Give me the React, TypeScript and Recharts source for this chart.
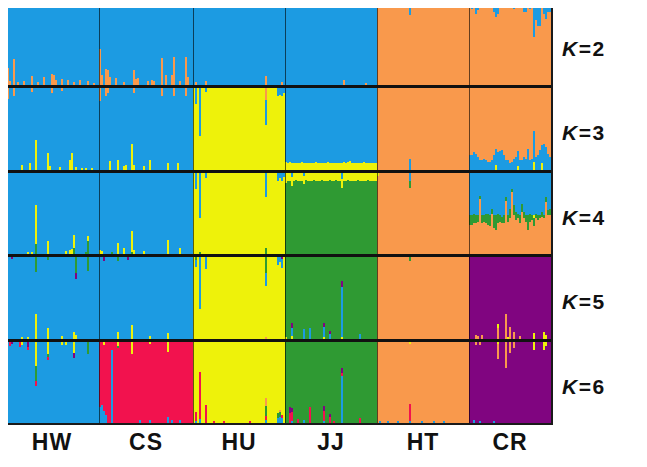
import { BarChart, Bar, XAxis, YAxis, ReferenceLine } from 'recharts'

// cluster colours as used in the figure
const clusterColors: Record<string, string> = {
  blue: '#1c9be2',
  orange: '#f9994c',
  yellow: '#eef20a',
  green: '#2f9a33',
  red: '#f2124e',
  purple: '#800580',
}

const populations = ['HW', 'CS', 'HU', 'JJ', 'HT', 'CR']
const popSizes = [47, 47, 46, 46, 46, 41]
const kValues = [2, 3, 4, 5, 6]

// stacking order, bottom -> top
const stackOrder: Record<number, string[]> = {
  2: ['orange', 'blue'],
  3: ['yellow', 'blue', 'orange'],
  4: ['orange', 'green', 'yellow', 'blue'],
  5: ['orange', 'yellow', 'blue', 'purple', 'green'],
  6: ['blue', 'red', 'purple', 'green', 'orange', 'yellow'],
}

// cluster that makes up the rest of each individual, per population
const baseCluster: Record<number, string[]> = {
  2: ['blue', 'blue', 'blue', 'blue', 'orange', 'orange'],
  3: ['blue', 'blue', 'yellow', 'blue', 'orange', 'orange'],
  4: ['blue', 'blue', 'yellow', 'green', 'orange', 'orange'],
  5: ['blue', 'blue', 'yellow', 'green', 'orange', 'purple'],
  6: ['blue', 'red', 'yellow', 'green', 'orange', 'purple'],
}

// admixture read per individual: [population, cluster, index, share]
type Spike = [string, string, number, number]

const k2Spikes: Spike[] = [
  ['HW', 'orange', 1, 0.21], ['HW', 'orange', 2, 0.05], ['HW', 'orange', 4, 0.32], ['HW', 'orange', 6, 0.04],
  ['HW', 'orange', 9, 0.05], ['HW', 'orange', 13, 0.11], ['HW', 'orange', 16, 0.04], ['HW', 'orange', 19, 0.1],
  ['HW', 'orange', 23, 0.14], ['HW', 'orange', 24, 0.12], ['HW', 'orange', 25, 0.06], ['HW', 'orange', 28, 0.08],
  ['HW', 'orange', 31, 0.06], ['HW', 'orange', 34, 0.04], ['HW', 'orange', 37, 0.06], ['HW', 'orange', 41, 0.05],
  ['HW', 'orange', 44, 0.03],
  ['CS', 'orange', 0, 0.44], ['CS', 'orange', 1, 0.12], ['CS', 'orange', 3, 0.2], ['CS', 'orange', 4, 0.18],
  ['CS', 'orange', 5, 0.1], ['CS', 'orange', 8, 0.09], ['CS', 'orange', 12, 0.04], ['CS', 'orange', 17, 0.18],
  ['CS', 'orange', 18, 0.08], ['CS', 'orange', 19, 0.09], ['CS', 'orange', 24, 0.05], ['CS', 'orange', 26, 0.06],
  ['CS', 'orange', 27, 0.05], ['CS', 'orange', 31, 0.33], ['CS', 'orange', 33, 0.12], ['CS', 'orange', 36, 0.12],
  ['CS', 'orange', 37, 0.34], ['CS', 'orange', 40, 0.05], ['CS', 'orange', 43, 0.34], ['CS', 'orange', 44, 0.1],
  ['HU', 'orange', 1, 0.04], ['HU', 'orange', 6, 0.05], ['HU', 'orange', 36, 0.11], ['HU', 'orange', 44, 0.04],
  ['JJ', 'orange', 29, 0.06], ['JJ', 'orange', 40, 0.03],
  ['HT', 'blue', 4, 0.03], ['HT', 'blue', 16, 0.14], ['HT', 'blue', 30, 0.03],
  ['CR', 'blue', 1, 0.06], ['CR', 'blue', 3, 0.12], ['CR', 'blue', 4, 0.08], ['CR', 'blue', 6, 0.05],
  ['CR', 'blue', 8, 0.04], ['CR', 'blue', 12, 0.1], ['CR', 'blue', 13, 0.16], ['CR', 'blue', 14, 0.12],
  ['CR', 'blue', 16, 0.04], ['CR', 'blue', 19, 0.05], ['CR', 'blue', 22, 0.06], ['CR', 'blue', 25, 0.05],
  ['CR', 'blue', 27, 0.1], ['CR', 'blue', 28, 0.1], ['CR', 'blue', 30, 0.06], ['CR', 'blue', 32, 0.41],
  ['CR', 'blue', 33, 0.2], ['CR', 'blue', 34, 0.27], ['CR', 'blue', 35, 0.27], ['CR', 'blue', 37, 0.12],
  ['CR', 'blue', 38, 0.18], ['CR', 'blue', 39, 0.1], ['CR', 'blue', 40, 0.1],
]

const k3Spikes: Spike[] = [
  ['HW', 'orange', 1, 0.14], ['HW', 'orange', 4, 0.1], ['HW', 'orange', 13, 0.05], ['HW', 'orange', 23, 0.06],
  ['HW', 'orange', 28, 0.04],
  ['HW', 'yellow', 8, 0.06], ['HW', 'yellow', 12, 0.08], ['HW', 'yellow', 15, 0.36], ['HW', 'yellow', 21, 0.21],
  ['HW', 'yellow', 22, 0.05], ['HW', 'yellow', 27, 0.04], ['HW', 'yellow', 32, 0.12], ['HW', 'yellow', 33, 0.21],
  ['HW', 'yellow', 35, 0.04], ['HW', 'yellow', 38, 0.03], ['HW', 'yellow', 40, 0.03], ['HW', 'yellow', 43, 0.03],
  ['CS', 'orange', 0, 0.16], ['CS', 'orange', 3, 0.1], ['CS', 'orange', 4, 0.06], ['CS', 'orange', 17, 0.06],
  ['CS', 'orange', 31, 0.1], ['CS', 'orange', 37, 0.1], ['CS', 'orange', 43, 0.1],
  ['CS', 'yellow', 5, 0.11], ['CS', 'yellow', 9, 0.12], ['CS', 'yellow', 12, 0.05], ['CS', 'yellow', 13, 0.06],
  ['CS', 'yellow', 16, 0.32], ['CS', 'yellow', 17, 0.06], ['CS', 'yellow', 22, 0.05], ['CS', 'yellow', 25, 0.12],
  ['CS', 'yellow', 34, 0.09], ['CS', 'yellow', 39, 0.08],
  ['HU', 'blue', 1, 0.2], ['HU', 'blue', 3, 0.59], ['HU', 'blue', 6, 0.05], ['HU', 'blue', 36, 0.3],
  ['HU', 'blue', 42, 0.1], ['HU', 'blue', 43, 0.08], ['HU', 'blue', 44, 0.1], ['HU', 'blue', 45, 0.06],
  ['HU', 'orange', 36, 0.15],
  ['HT', 'blue', 16, 0.14],
  ['CR', 'yellow', 13, 0.06], ['CR', 'yellow', 24, 0.05], ['CR', 'yellow', 32, 0.1], ['CR', 'yellow', 36, 0.08],
]

const k4Spikes: Spike[] = [
  ['HW', 'yellow', 11, 0.03], ['HW', 'yellow', 13, 0.03], ['HW', 'yellow', 15, 0.48], ['HW', 'yellow', 21, 0.16],
  ['HW', 'yellow', 30, 0.04], ['HW', 'yellow', 32, 0.05], ['HW', 'yellow', 33, 0.06], ['HW', 'yellow', 34, 0.15],
  ['HW', 'yellow', 41, 0.06],
  ['HW', 'green', 15, 0.12], ['HW', 'green', 34, 0.08], ['HW', 'green', 40, 0.03], ['HW', 'green', 41, 0.16],
  ['CS', 'yellow', 0, 0.05], ['CS', 'yellow', 1, 0.04], ['CS', 'yellow', 9, 0.14], ['CS', 'yellow', 12, 0.07],
  ['CS', 'yellow', 16, 0.26], ['CS', 'yellow', 17, 0.05], ['CS', 'yellow', 22, 0.04], ['CS', 'yellow', 34, 0.17],
  ['CS', 'yellow', 40, 0.08],
  ['CS', 'green', 6, 0.03], ['CS', 'green', 16, 0.03],
  ['HU', 'blue', 1, 0.2], ['HU', 'blue', 3, 0.55], ['HU', 'blue', 6, 0.06], ['HU', 'blue', 36, 0.3],
  ['HU', 'blue', 42, 0.1], ['HU', 'blue', 43, 0.06], ['HU', 'blue', 44, 0.1], ['HU', 'blue', 45, 0.05],
  ['HU', 'green', 3, 0.03], ['HU', 'green', 36, 0.08],
  ['JJ', 'blue', 3, 0.05], ['JJ', 'blue', 9, 0.04], ['JJ', 'blue', 28, 0.08],
  ['HT', 'blue', 16, 0.1], ['HT', 'green', 16, 0.08], ['HT', 'yellow', 0, 0.04],
  ['CR', 'yellow', 32, 0.03],
]

const k5Spikes: Spike[] = [
  ['HW', 'yellow', 8, 0.03], ['HW', 'yellow', 11, 0.03], ['HW', 'yellow', 15, 0.31], ['HW', 'yellow', 21, 0.13],
  ['HW', 'yellow', 28, 0.04], ['HW', 'yellow', 34, 0.09], ['HW', 'yellow', 35, 0.05],
  ['HW', 'green', 15, 0.18], ['HW', 'green', 21, 0.04], ['HW', 'green', 35, 0.2], ['HW', 'green', 41, 0.17],
  ['HW', 'purple', 3, 0.03], ['HW', 'purple', 35, 0.07],
  ['CS', 'yellow', 9, 0.09], ['CS', 'yellow', 16, 0.17], ['CS', 'yellow', 25, 0.04], ['CS', 'yellow', 34, 0.07],
  ['CS', 'purple', 2, 0.05], ['CS', 'purple', 14, 0.04], ['CS', 'green', 9, 0.05],
  ['HU', 'blue', 1, 0.08], ['HU', 'blue', 3, 0.63], ['HU', 'blue', 6, 0.15], ['HU', 'blue', 36, 0.15],
  ['HU', 'blue', 42, 0.1], ['HU', 'blue', 43, 0.06], ['HU', 'blue', 44, 0.1],
  ['HU', 'green', 1, 0.04], ['HU', 'green', 36, 0.2], ['HU', 'purple', 44, 0.03], ['HU', 'orange', 36, 0.03],
  ['JJ', 'yellow', 0, 0.03], ['JJ', 'yellow', 3, 0.04], ['JJ', 'yellow', 19, 0.02], ['JJ', 'yellow', 28, 0.03],
  ['JJ', 'blue', 3, 0.1], ['JJ', 'blue', 9, 0.12], ['JJ', 'blue', 12, 0.14], ['JJ', 'blue', 19, 0.13],
  ['JJ', 'blue', 22, 0.06], ['JJ', 'blue', 28, 0.6], ['JJ', 'blue', 37, 0.06],
  ['JJ', 'purple', 3, 0.06], ['JJ', 'purple', 19, 0.04], ['JJ', 'purple', 22, 0.04], ['JJ', 'purple', 28, 0.08],
  ['HT', 'green', 16, 0.05],
  ['CR', 'orange', 3, 0.05], ['CR', 'orange', 4, 0.04], ['CR', 'orange', 6, 0.05], ['CR', 'orange', 14, 0.14],
  ['CR', 'orange', 18, 0.3], ['CR', 'orange', 20, 0.15], ['CR', 'orange', 22, 0.08], ['CR', 'orange', 25, 0.04],
  ['CR', 'yellow', 14, 0.04], ['CR', 'yellow', 19, 0.03], ['CR', 'yellow', 32, 0.07], ['CR', 'yellow', 37, 0.09],
  ['CR', 'yellow', 38, 0.05],
]

const k6Spikes: Spike[] = [
  ['HW', 'yellow', 8, 0.04], ['HW', 'yellow', 15, 0.3], ['HW', 'yellow', 21, 0.15], ['HW', 'yellow', 28, 0.04],
  ['HW', 'yellow', 30, 0.04], ['HW', 'yellow', 34, 0.13],
  ['HW', 'green', 15, 0.18], ['HW', 'green', 21, 0.03], ['HW', 'green', 41, 0.15],
  ['HW', 'red', 2, 0.05], ['HW', 'red', 7, 0.06], ['HW', 'red', 11, 0.04], ['HW', 'red', 15, 0.06], ['HW', 'red', 21, 0.04],
  ['HW', 'purple', 3, 0.03], ['HW', 'purple', 11, 0.06], ['HW', 'purple', 34, 0.07],
  ['CS', 'blue', 0, 0.2], ['CS', 'blue', 1, 0.22], ['CS', 'blue', 2, 0.15], ['CS', 'blue', 3, 0.1],
  ['CS', 'blue', 6, 0.9], ['CS', 'blue', 20, 0.04], ['CS', 'blue', 25, 0.04], ['CS', 'blue', 34, 0.08],
  ['CS', 'blue', 36, 0.04], ['CS', 'blue', 40, 0.04],
  ['CS', 'yellow', 2, 0.04], ['CS', 'yellow', 9, 0.05], ['CS', 'yellow', 16, 0.15], ['CS', 'yellow', 25, 0.03],
  ['CS', 'yellow', 34, 0.12], ['CS', 'green', 9, 0.03],
  ['HU', 'red', 1, 0.1], ['HU', 'red', 3, 0.58], ['HU', 'red', 6, 0.22], ['HU', 'red', 10, 0.02],
  ['HU', 'red', 15, 0.02], ['HU', 'red', 28, 0.02], ['HU', 'red', 36, 0.05], ['HU', 'red', 44, 0.04],
  ['HU', 'blue', 1, 0.03], ['HU', 'blue', 3, 0.05], ['HU', 'blue', 36, 0.04], ['HU', 'blue', 42, 0.06],
  ['HU', 'blue', 43, 0.08], ['HU', 'blue', 44, 0.06],
  ['HU', 'green', 36, 0.12], ['HU', 'green', 42, 0.06], ['HU', 'green', 43, 0.05],
  ['HU', 'orange', 36, 0.1], ['HU', 'orange', 43, 0.03],
  ['JJ', 'red', 2, 0.12], ['JJ', 'red', 3, 0.1], ['JJ', 'red', 6, 0.05], ['JJ', 'red', 12, 0.2],
  ['JJ', 'red', 19, 0.12], ['JJ', 'red', 22, 0.08], ['JJ', 'red', 24, 0.03], ['JJ', 'red', 28, 0.04],
  ['JJ', 'red', 37, 0.06],
  ['JJ', 'purple', 2, 0.08], ['JJ', 'purple', 3, 0.06], ['JJ', 'purple', 19, 0.06], ['JJ', 'purple', 22, 0.03],
  ['JJ', 'purple', 28, 0.06],
  ['JJ', 'blue', 3, 0.03], ['JJ', 'blue', 9, 0.04], ['JJ', 'blue', 19, 0.03], ['JJ', 'blue', 28, 0.58],
  ['HT', 'red', 16, 0.2], ['HT', 'yellow', 16, 0.03],
  ['HT', 'blue', 1, 0.03], ['HT', 'blue', 5, 0.02], ['HT', 'blue', 10, 0.03], ['HT', 'blue', 16, 0.03],
  ['HT', 'blue', 22, 0.02], ['HT', 'blue', 28, 0.03], ['HT', 'blue', 33, 0.03],
  ['CR', 'orange', 3, 0.04], ['CR', 'orange', 5, 0.04], ['CR', 'orange', 14, 0.18], ['CR', 'orange', 18, 0.32],
  ['CR', 'orange', 20, 0.14], ['CR', 'orange', 22, 0.08],
  ['CR', 'yellow', 14, 0.03], ['CR', 'yellow', 32, 0.1], ['CR', 'yellow', 37, 0.1], ['CR', 'yellow', 38, 0.05],
  ['CR', 'blue', 2, 0.04], ['CR', 'blue', 5, 0.03], ['CR', 'blue', 12, 0.02],
]

// whole-population shares read individual by individual
const jjYellowK3 = [
  0.1, 0.09, 0.1, 0.09, 0.09, 0.08, 0.09, 0.09, 0.1, 0.09, 0.09, 0.08, 0.09, 0.09, 0.09, 0.1,
  0.09, 0.09, 0.08, 0.09, 0.09, 0.1, 0.09, 0.09, 0.09, 0.08, 0.09, 0.09, 0.09, 0.1, 0.09, 0.1,
  0.11, 0.09, 0.09, 0.09, 0.08, 0.09, 0.09, 0.1, 0.09, 0.09, 0.09, 0.08, 0.09, 0.09,
]
const jjYellowK4 = [
  0.12, 0.1, 0.1, 0.11, 0.1, 0.09, 0.1, 0.1, 0.1, 0.1, 0.09, 0.1, 0.1, 0.1, 0.09, 0.1,
  0.1, 0.1, 0.09, 0.1, 0.1, 0.1, 0.09, 0.1, 0.1, 0.09, 0.1, 0.1, 0.1, 0.1, 0.1, 0.09,
  0.1, 0.1, 0.1, 0.1, 0.09, 0.1, 0.1, 0.1, 0.1, 0.09, 0.1, 0.1, 0.1, 0.1,
]
const crBlueK3 = [
  0.18, 0.18, 0.22, 0.2, 0.16, 0.12, 0.12, 0.14, 0.12, 0.1, 0.1, 0.12, 0.18, 0.2, 0.22, 0.23,
  0.24, 0.18, 0.12, 0.12, 0.08, 0.1, 0.14, 0.16, 0.18, 0.12, 0.12, 0.16, 0.14, 0.26, 0.12, 0.14,
  0.38, 0.16, 0.18, 0.24, 0.22, 0.32, 0.28, 0.2, 0.16,
]
const crBlueK4 = [
  0.52, 0.52, 0.5, 0.52, 0.52, 0.28, 0.52, 0.52, 0.5, 0.5, 0.52, 0.44, 0.52, 0.52, 0.5, 0.52,
  0.54, 0.52, 0.3, 0.52, 0.44, 0.2, 0.4, 0.48, 0.5, 0.52, 0.38, 0.48, 0.52, 0.52, 0.5, 0.52,
  0.52, 0.5, 0.52, 0.52, 0.48, 0.52, 0.3, 0.46, 0.44,
]
const crGreenK4 = [
  0.12, 0.12, 0.12, 0.1, 0.08, 0.04, 0.1, 0.08, 0.12, 0.14, 0.14, 0.06, 0.16, 0.18, 0.12, 0.08,
  0.08, 0.1, 0.04, 0.08, 0.12, 0.04, 0.12, 0.1, 0.06, 0.1, 0.1, 0.08, 0.08, 0.18, 0.1, 0.06,
  0.1, 0.06, 0.06, 0.04, 0.06, 0.04, 0.06, 0.06, 0.08,
]

type Band = [string, string, number[]]
const bands: Record<number, Band[]> = {
  2: [],
  3: [['JJ', 'yellow', jjYellowK3], ['CR', 'blue', crBlueK3]],
  4: [['JJ', 'yellow', jjYellowK4], ['CR', 'blue', crBlueK4], ['CR', 'green', crGreenK4]],
  5: [],
  6: [],
}
const spikes: Record<number, Spike[]> = { 2: k2Spikes, 3: k3Spikes, 4: k4Spikes, 5: k5Spikes, 6: k6Spikes }

const panelHeights = [81, 82, 81, 82, 81]
const BAR_W = 2
const chartWidth = popSizes.reduce((a, b) => a + b, 0) * BAR_W

function buildRows(k: number) {
  const rows: any[] = []
  const start: Record<string, number> = {}
  populations.forEach((pop, p) => {
    start[pop] = rows.length
    for (let i = 0; i < popSizes[p]; i++) {
      const row: any = { id: `${pop}-${i}`, pop: p }
      stackOrder[k].forEach(c => (row[c] = 0))
      rows.push(row)
    }
  })
  bands[k].forEach(([pop, c, values]) => values.forEach((v, i) => (rows[start[pop] + i][c] += v)))
  spikes[k].forEach(([pop, c, i, v]) => (rows[start[pop] + i][c] += v))
  rows.forEach(row => {
    const base = baseCluster[k][row.pop]
    const rest = stackOrder[k].filter(c => c !== base).reduce((s, c) => s + row[c], 0)
    row[base] = Math.max(0, Math.round((1 - rest) * 1000) / 1000)
  })
  return rows
}

const font = "'Liberation Sans', Arial, sans-serif"

function Panel({ k, height }: { k: number; height: number }) {
  const rows = buildRows(k)
  return (
    <div style={{ height, shapeRendering: 'crispEdges' } as any}>
      <BarChart
        width={chartWidth}
        height={height}
        data={rows}
        margin={{ top: 0, right: 0, bottom: 0, left: 0 }}
        barCategoryGap={0}
        barGap={0}
      >
        <XAxis dataKey="id" hide />
        <YAxis hide domain={[0, 1]} allowDataOverflow />
        {stackOrder[k].map(c => (
          <Bar key={c} dataKey={c} stackId="q" fill={clusterColors[c]} isAnimationActive={false} />
        ))}
        {populations.slice(1).map(pop => (
          <ReferenceLine key={pop} x={`${pop}-0`} position="start" stroke="#000" strokeOpacity={0.6} strokeWidth={1} />
        ))}
      </BarChart>
    </div>
  )
}

export default function App() {
  let acc = 0
  const centers = popSizes.map(n => {
    const c = (acc + n / 2) * BAR_W
    acc += n
    return c
  })
  let top = 4
  const labelTops = panelHeights.map(h => {
    const t = top + h / 2
    top += h + 3
    return t
  })
  return (
    <div style={{ position: 'relative', width: 647, height: 467, margin: -8, background: '#fff', fontFamily: font }}>
      <div
        style={{
          position: 'absolute',
          left: 3,
          top: 2,
          width: chartWidth,
          border: '2px solid #1a1a1a',
        }}
      >
        {kValues.map((k, i) => (
          <div key={k}>
            {i > 0 && <div style={{ height: 3, background: '#111' }} />}
            <Panel k={k} height={panelHeights[i]} />
          </div>
        ))}
      </div>
      {kValues.map((k, i) => (
        <div
          key={k}
          style={{
            position: 'absolute',
            left: 562,
            top: labelTops[i] + 3,
            transform: 'translateY(-50%)',
            fontSize: 21,
            fontWeight: 'bold',
            letterSpacing: 1.5,
            color: '#111',
            lineHeight: 1,
          }}
        >
          <span style={{ fontStyle: 'italic' }}>K</span>={k}
        </div>
      ))}
      {populations.map((pop, i) => (
        <div
          key={pop}
          style={{
            position: 'absolute',
            left: 5 + centers[i],
            top: 431,
            transform: 'translateX(-50%)',
            fontSize: 23,
            fontWeight: 'bold',
            letterSpacing: 1,
            color: '#111',
            lineHeight: 1,
          }}
        >
          {pop}
        </div>
      ))}
    </div>
  )
}
